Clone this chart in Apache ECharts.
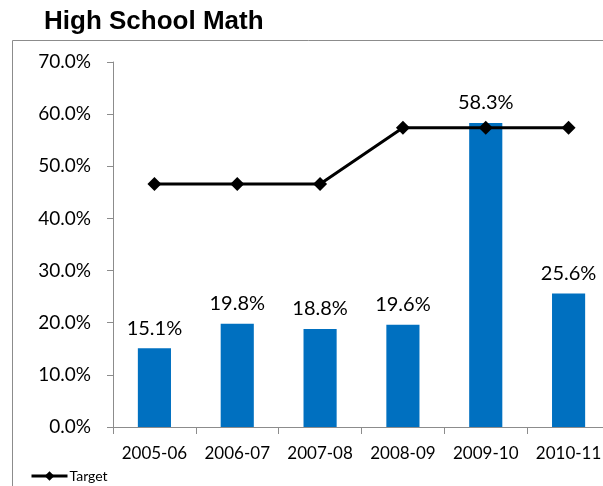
<!DOCTYPE html>
<html><head><meta charset="utf-8">
<script src="https://cdn.jsdelivr.net/npm/echarts@6/dist/echarts.min.js"></script>
<style>html,body{margin:0;padding:0;background:#fff}#c{width:603px;height:486px}</style>
</head><body><div id="c"></div>
<script>
var categories = ['2005-06','2006-07','2007-08','2008-09','2009-10','2010-11'];
var actual = [15.1, 19.8, 18.8, 19.6, 58.3, 25.6];
var target = [46.6, 46.6, 46.6, 57.4, 57.4, 57.4];
var yTicks = [0, 10, 20, 30, 40, 50, 60, 70];

var chart = echarts.init(document.getElementById('c'));
chart.setOption({
  animation: false,
  title: {text: 'High School Math', left: 39, top: 4,
    textStyle: {fontFamily: 'Liberation Sans, Arial', fontWeight: 'bold', fontSize: 26, color: '#000'}},
  graphic: [{type: 'rect', shape: {x: 12.5, y: 40.5, width: 700, height: 600},
    style: {fill: 'none', stroke: '#8c8c8c', lineWidth: 1}, z: -1}],
  legend: {data: ['Target'], left: 25, top: 464, itemWidth: 36, itemHeight: 12, itemGap: 2,
    lineStyle: {width: 3},
    textStyle: {fontFamily: 'Lato', fontSize: 14, color: '#000', padding: [0, 0, 0, -3]}},
  grid: {left: 113, right: -7, top: 62, bottom: 59, outerBoundsMode: 'none', containLabel: false},
  xAxis: {type: 'category', data: categories,
    axisLine: {lineStyle: {color: '#8c8c8c'}},
    axisTick: {show: true, length: 7, lineStyle: {color: '#8c8c8c'}},
    axisLabel: {interval: 0, fontFamily: 'Lato', fontSize: 17, color: '#000', margin: 18}},
  yAxis: {type: 'value', min: 0, max: 70, interval: 10,
    axisLine: {show: true, lineStyle: {color: '#8c8c8c'}},
    axisTick: {show: true, length: 6, lineStyle: {color: '#8c8c8c'}},
    splitLine: {show: false},
    axisLabel: {fontFamily: 'Lato', fontSize: 19, color: '#000', margin: 22,
      formatter: function(v){ return v.toFixed(1) + '%'; }}},
  series: [
    {name: 'Actual', type: 'bar', data: actual, barWidth: '40%',
     itemStyle: {color: '#0070C0'},
     label: {show: true, position: 'top', distance: 10, fontFamily: 'Lato', fontSize: 20, color: '#000',
       formatter: function(p){ return p.value.toFixed(1) + '%'; }}},
    {name: 'Target', type: 'line', data: target, symbol: 'diamond', symbolSize: 14,
     lineStyle: {color: '#000', width: 3}, itemStyle: {color: '#000'}, z: 5}
  ]
});
</script></body></html>
